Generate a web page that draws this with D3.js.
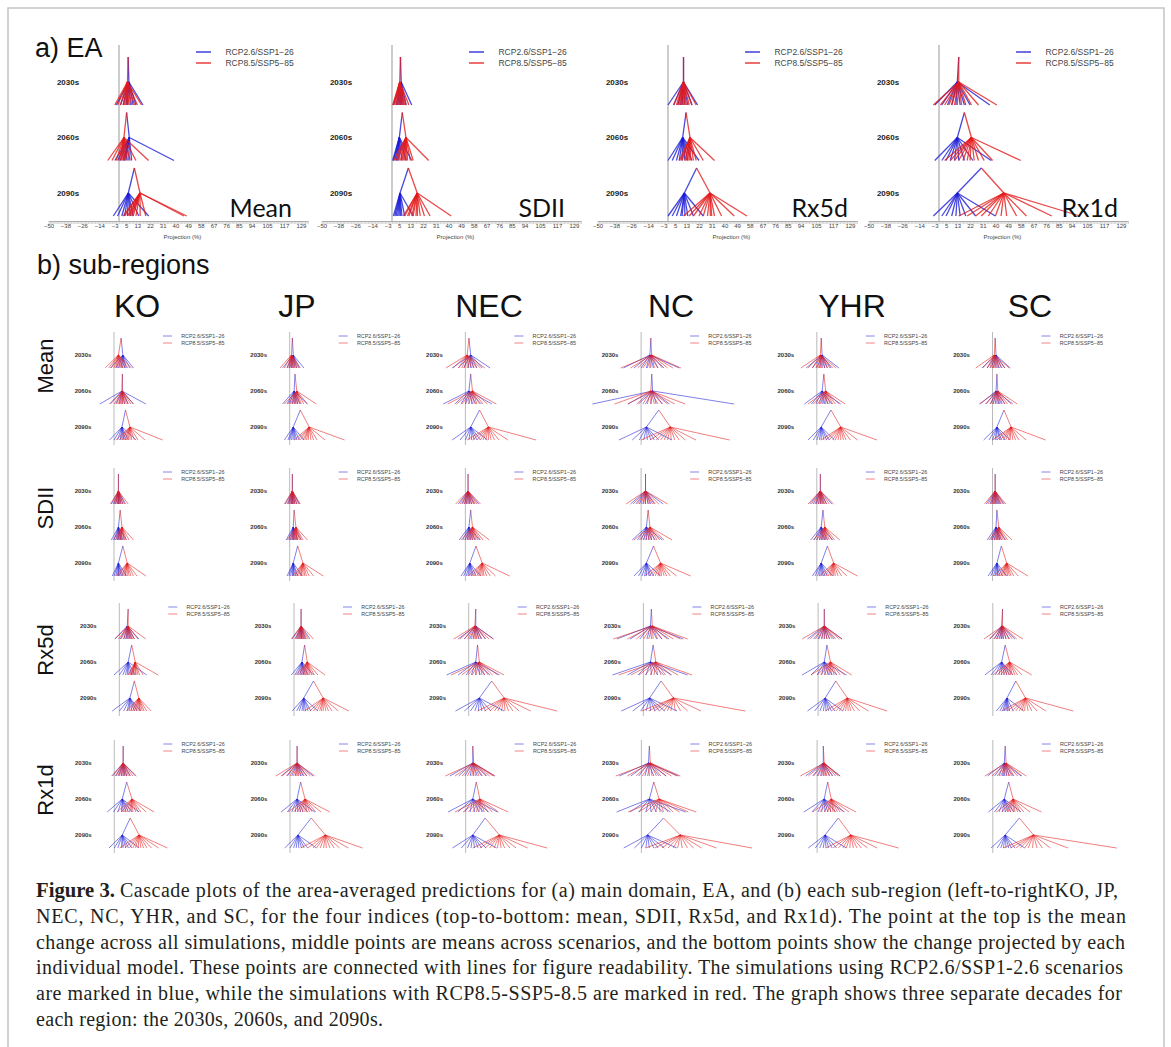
<!DOCTYPE html>
<html>
<head>
<meta charset="utf-8">
<script src="https://cdn.jsdelivr.net/npm/d3@7"></script>
<style>
body { margin: 0; background: #fff; }
</style>
</head>
<body>
<svg id="fig" width="1171" height="1047"></svg>
<script>
var decades = ["2030s", "2060s", "2090s"];
var indices = ["Mean", "SDII", "Rx5d", "Rx1d"];
var regions = ["KO", "JP", "NEC", "NC", "YHR", "SC"];
var scenarios = ["RCP2.6/SSP1\u221226", "RCP8.5/SSP5\u221285"];
var tickLabels = [-50, -38, -26, -14, -3, 5, 13, 22, 31, 40, 49, 58, 67, 76, 85, 94, 105, 117, 129];
var tickLabelsSC = [-50, -38, -26, -14, -3, 5, 13, 22, 31, 40, 49, 58, 67, 76, 85, 94, 105, 117, 129, 141];

// each decade: [mean of all sims, RCP2.6 mean, RCP8.5 mean, RCP2.6 models, RCP8.5 models]  (%)
var eaMean = [
  [6.5, 7, 6, [-2, 1, 3, 5, 6, 8, 10, 12, 17], [-3, -1, 1, 3, 4, 5, 6, 7, 9, 11, 13, 16]],
  [5.4, 7.3, 3.5, [-3, -1, 1, 3, 4, 5, 7, 9, 39], [-8, -5, -2, 0, 1, 2, 3, 4, 6, 8, 12, 21]],
  [10.9, 6.6, 14.9, [-4, -1, 2, 4, 6, 8, 10, 14, 21], [3, 4, 6, 7, 8, 9, 10, 12, 15, 19, 46, 48]]
];
var eaSDII = [
  [6, 6.5, 5.5, [1, 3, 4, 5, 6, 7, 8, 10, 14], [0.5, 1, 2, 3, 4, 5, 6, 7, 8, 9, 10, 12]],
  [7.3, 5.2, 9.9, [0.5, 1, 2, 3, 4, 5, 7, 10, 14], [1, 3, 4, 6, 7, 8, 9, 10, 11, 13, 15, 26]],
  [11.6, 5.7, 17.9, [1, 2, 3, 4, 5, 6, 7, 9, 15], [8, 9, 11, 12, 14, 15, 17, 18, 20, 23, 27, 42]]
];
var eaRx5d = [
  [11, 11, 11, [0, 4, 7, 9, 10, 12, 14, 17, 21], [4, 6, 7, 8, 9, 10, 11, 12, 13, 15, 17, 20]],
  [12.8, 10.4, 15.6, [0, 3, 6, 8, 10, 12, 14, 17, 22], [8, 9, 10, 12, 13, 14, 15, 16, 18, 20, 25, 33]],
  [20.3, 11.6, 29.8, [0, 3, 6, 9, 10, 12, 14, 18, 25], [11, 15, 18, 22, 25, 28, 30, 31, 33, 38, 47, 56]]
];
var eaRx1d = [
  [14, 13, 14, [-3, 2, 6, 9, 12, 15, 18, 22, 36], [-4, 1, 4, 7, 9, 11, 13, 16, 19, 23, 28, 41]],
  [18, 13, 23, [-3, 2, 5, 8, 11, 14, 18, 24, 37], [4, 8, 11, 14, 17, 20, 22, 25, 28, 32, 38, 58]],
  [30, 13, 46, [-4, 2, 5, 9, 12, 15, 19, 26, 40], [14, 20, 26, 30, 35, 40, 44, 48, 55, 62, 80, 100]]
];

// sub-regions, in the order of `regions`
var subMean = [
  [[8, 10, 5, [-4, 2, 5, 8, 10, 12, 14, 18, 22], [-10, -6, -3, 0, 2, 4, 6, 8, 10, 13, 16, 20]],
   [9.5, 9, 9.5, [-16, -5, 2, 6, 9, 12, 16, 22, 36], [-4, 0, 3, 5, 7, 9, 10, 12, 14, 16, 19, 22]],
   [13, 9, 18, [-5, 0, 4, 7, 9, 11, 13, 16, 25], [2, 6, 9, 12, 14, 16, 18, 20, 23, 27, 35, 55]]],
  [[3, 4, 2, [-8, -3, 0, 2, 4, 6, 8, 11, 16], [-11, -6, -3, -1, 0, 2, 3, 4, 6, 8, 10, 12]],
   [6, 5, 8, [-8, -3, 0, 3, 5, 7, 9, 12, 20], [-6, -2, 1, 3, 5, 7, 9, 11, 13, 16, 20, 30]],
   [12, 4, 22, [-6, -2, 0, 2, 4, 6, 8, 11, 16], [5, 9, 12, 15, 17, 19, 21, 24, 27, 31, 40, 62]]],
  [[4, 6, 2, [-15, -8, -2, 3, 6, 9, 13, 19, 28], [-22, -14, -8, -4, -1, 2, 4, 7, 10, 13, 17, 22]],
   [6, 4, 8, [-25, -12, -5, 0, 4, 8, 12, 18, 30], [-20, -10, -4, 0, 4, 7, 10, 13, 16, 20, 25, 35]],
   [16, 6, 26, [-15, -6, 0, 4, 7, 10, 13, 17, 25], [2, 8, 13, 17, 20, 23, 26, 29, 33, 38, 48, 80]]],
  [[11, 10, 12, [-20, -8, 0, 6, 10, 14, 19, 26, 43], [-23, -12, -4, 2, 7, 11, 15, 19, 24, 30, 36, 45]],
   [12, 13, 11, [-55, -15, -3, 5, 11, 17, 24, 32, 105], [-30, -15, -5, 2, 7, 11, 15, 19, 24, 30, 38, 50]],
   [20, 6, 33, [-25, -10, -2, 3, 7, 11, 15, 20, 35], [0, 10, 17, 22, 26, 30, 34, 38, 43, 50, 62, 100]]],
  [[5, 6, 4, [-12, -5, 0, 3, 6, 9, 12, 16, 25], [-18, -10, -5, -1, 2, 4, 6, 9, 12, 15, 18, 22]],
   [8, 6, 10, [-14, -6, -1, 3, 6, 9, 13, 17, 27], [-10, -4, 1, 4, 7, 10, 12, 15, 18, 21, 25, 32]],
   [16, 5, 27, [-10, -4, 0, 3, 5, 8, 11, 14, 20], [5, 10, 14, 18, 21, 24, 27, 30, 33, 38, 46, 68]]],
  [[3, 4, 2, [-12, -6, -2, 1, 4, 7, 10, 14, 20], [-19, -11, -6, -3, 0, 2, 4, 6, 8, 11, 14, 19]],
   [5, 4, 6, [-14, -7, -2, 1, 4, 7, 10, 14, 23], [-15, -8, -3, 0, 3, 6, 8, 11, 14, 17, 21, 28]],
   [13, 5, 21, [-10, -4, 0, 3, 5, 8, 10, 14, 20], [0, 5, 9, 12, 15, 18, 20, 23, 26, 30, 38, 60]]]
];
var subSDII = [
  [[5, 5, 5, [-3, 0, 2, 4, 5, 6, 8, 10, 13], [-4, -1, 1, 2, 4, 5, 6, 7, 8, 10, 12, 16]],
   [7, 5, 9, [-3, 0, 2, 4, 5, 7, 8, 10, 14], [-1, 2, 4, 6, 7, 8, 9, 11, 12, 14, 17, 22]],
   [10, 5, 15, [-2, 0, 2, 4, 5, 6, 8, 10, 14], [2, 5, 8, 10, 12, 13, 15, 17, 19, 22, 26, 36]]],
  [[3, 3, 3, [-5, -2, 0, 2, 3, 4, 6, 8, 11], [-6, -3, -1, 1, 2, 3, 4, 5, 6, 8, 10, 12]],
   [5, 4, 7, [-4, -1, 1, 3, 4, 5, 7, 9, 13], [-3, 0, 2, 4, 5, 7, 8, 9, 11, 13, 15, 20]],
   [9, 4, 15, [-3, -1, 1, 3, 4, 5, 7, 9, 14], [3, 6, 8, 10, 12, 13, 15, 17, 19, 22, 27, 38]]],
  [[3, 3, 3, [-8, -4, -1, 1, 3, 5, 7, 10, 15], [-11, -6, -3, -1, 1, 3, 5, 7, 9, 11, 13, 17]],
   [6, 4, 8, [-7, -3, 0, 2, 4, 6, 8, 11, 16], [-5, -1, 2, 4, 6, 8, 10, 12, 14, 17, 20, 27]],
   [12, 5, 19, [-5, -2, 1, 3, 5, 7, 9, 12, 17], [3, 7, 10, 13, 15, 17, 19, 21, 24, 28, 34, 50]]],
  [[5, 5, 5, [-12, -6, -2, 2, 5, 8, 11, 15, 25], [-17, -9, -4, 0, 3, 5, 8, 10, 13, 16, 20, 30]],
   [8, 6, 10, [-10, -4, 0, 3, 6, 9, 12, 16, 24], [-8, -2, 2, 5, 8, 10, 12, 15, 18, 21, 26, 35]],
   [14, 6, 22, [-8, -3, 1, 4, 6, 9, 11, 14, 22], [4, 9, 13, 16, 19, 21, 23, 26, 29, 33, 40, 56]]],
  [[4, 4, 4, [-8, -4, -1, 2, 4, 6, 8, 11, 17], [-10, -6, -2, 0, 2, 4, 5, 7, 9, 11, 14, 19]],
   [7, 5, 9, [-7, -3, 0, 3, 5, 7, 9, 12, 18], [-4, 0, 3, 5, 7, 9, 10, 12, 14, 17, 20, 26]],
   [12, 5, 19, [-5, -2, 1, 3, 5, 7, 9, 12, 18], [3, 7, 10, 13, 15, 17, 19, 21, 24, 28, 34, 46]]],
  [[3, 3, 3, [-7, -3, -1, 1, 3, 5, 7, 9, 13], [-9, -5, -2, 0, 2, 3, 4, 6, 8, 10, 12, 15]],
   [5, 4, 7, [-6, -2, 0, 2, 4, 6, 8, 10, 15], [-4, -1, 2, 4, 5, 7, 8, 10, 12, 14, 17, 22]],
   [10, 5, 16, [-5, -2, 1, 3, 5, 6, 8, 11, 16], [2, 6, 9, 11, 13, 15, 17, 19, 21, 24, 29, 40]]]
];
var subRx5d = [
  [[10, 9, 10, [-5, 1, 5, 8, 10, 12, 14, 17, 22], [-5, -1, 2, 5, 7, 9, 11, 13, 15, 17, 21, 30]],
   [14, 10, 18, [-6, 0, 4, 7, 9, 11, 14, 18, 31], [10, 12, 13, 14, 15, 16, 18, 19, 21, 23, 27, 44]],
   [17, 12, 22, [-8, 0, 5, 9, 11, 14, 17, 20, 24], [8, 12, 15, 17, 19, 21, 23, 24, 26, 28, 31, 36]]],
  [[8, 8, 8, [-2, 2, 4, 6, 8, 9, 11, 13, 18], [-3, 1, 3, 5, 7, 8, 9, 10, 12, 14, 16, 22]],
   [12, 9, 15, [-3, 1, 4, 7, 9, 11, 13, 16, 22], [2, 5, 8, 10, 12, 14, 16, 18, 20, 23, 27, 35]],
   [22, 11, 33, [-2, 3, 6, 9, 11, 13, 16, 19, 27], [12, 18, 22, 26, 29, 31, 33, 36, 39, 43, 50, 62]]],
  [[8, 8, 7, [-12, -5, 1, 5, 8, 11, 14, 19, 28], [-17, -10, -5, -1, 3, 6, 9, 12, 15, 19, 23, 28]],
   [10, 8, 12, [-25, -12, -3, 3, 8, 13, 18, 24, 35], [-20, -8, -1, 4, 8, 12, 15, 18, 22, 27, 33, 40]],
   [26, 12, 40, [-15, -5, 2, 7, 11, 15, 19, 25, 40], [10, 18, 24, 29, 33, 37, 41, 45, 50, 57, 70, 100]]],
  [[9, 8, 10, [-30, -15, -4, 4, 9, 15, 21, 29, 45], [-34, -18, -8, 0, 6, 11, 16, 21, 27, 34, 42, 50]],
   [11, 8, 14, [-35, -18, -6, 3, 9, 16, 23, 32, 50], [-28, -14, -5, 2, 8, 12, 16, 20, 25, 31, 39, 55]],
   [20, 7, 34, [-25, -12, -3, 3, 8, 13, 18, 24, 38], [-2, 6, 12, 18, 23, 27, 31, 36, 42, 50, 65, 115]]],
  [[7, 7, 7, [-12, -5, 0, 4, 7, 10, 13, 18, 27], [-18, -9, -3, 1, 4, 7, 10, 13, 16, 20, 24, 27]],
   [10, 7, 14, [-18, -8, -1, 4, 8, 12, 16, 21, 32], [-8, -1, 3, 7, 10, 13, 15, 18, 21, 25, 30, 38]],
   [20, 8, 33, [-12, -4, 2, 6, 9, 12, 15, 19, 28], [8, 15, 20, 24, 28, 31, 34, 37, 41, 47, 57, 78]]],
  [[11, 10, 11, [-3, 2, 5, 8, 10, 12, 15, 19, 25], [-10, -4, 1, 4, 7, 10, 12, 15, 18, 22, 27, 34]],
   [14, 10, 19, [-9, -2, 3, 7, 10, 13, 16, 19, 23], [0, 5, 9, 12, 15, 18, 20, 22, 25, 28, 33, 44]],
   [26, 16, 37, [4, 8, 11, 13, 15, 17, 19, 23, 35], [10, 16, 22, 26, 30, 33, 36, 40, 44, 50, 60, 91]]]
];
var subRx1d = [
  [[10, 10, 10, [-2, 2, 5, 8, 10, 12, 14, 18, 24], [-3, 1, 4, 6, 8, 10, 12, 14, 16, 18, 21, 25]],
   [14, 9, 20, [-8, -1, 4, 8, 10, 13, 16, 20, 28], [3, 8, 11, 14, 17, 19, 21, 24, 27, 30, 36, 45]],
   [18, 9, 28, [-6, 0, 4, 8, 10, 13, 16, 20, 28], [6, 12, 17, 21, 24, 27, 30, 33, 37, 42, 50, 60]]],
  [[8, 8, 8, [-10, -3, 2, 6, 9, 12, 15, 19, 26], [-16, -9, -4, 0, 4, 7, 10, 13, 16, 19, 23, 28]],
   [12, 8, 17, [-10, -3, 2, 6, 9, 12, 15, 20, 28], [-2, 4, 8, 11, 14, 17, 19, 22, 25, 29, 35, 45]],
   [24, 9, 40, [-6, 0, 4, 7, 10, 13, 16, 20, 30], [12, 20, 26, 30, 34, 38, 41, 45, 50, 56, 66, 82]]],
  [[8, 8, 9, [-18, -8, -1, 5, 9, 13, 18, 24, 33], [-23, -12, -4, 2, 7, 11, 15, 19, 23, 27, 31, 33]],
   [12, 8, 16, [-20, -9, -1, 5, 10, 15, 20, 26, 36], [-12, -3, 3, 8, 12, 15, 18, 21, 25, 30, 37, 48]],
   [22, 8, 38, [-15, -5, 2, 6, 10, 14, 18, 23, 35], [8, 16, 22, 27, 32, 36, 40, 44, 50, 57, 70, 92]]],
  [[9, 8, 10, [-25, -12, -3, 4, 9, 14, 20, 28, 42], [-29, -16, -6, 1, 7, 12, 17, 22, 28, 34, 40, 44]],
   [14, 9, 20, [-28, -13, -3, 5, 11, 17, 24, 33, 50], [-15, -3, 5, 11, 16, 21, 25, 30, 36, 43, 53, 62]],
   [25, 7, 44, [-20, -8, 0, 5, 9, 14, 19, 26, 40], [5, 15, 23, 30, 36, 41, 46, 52, 59, 68, 85, 125]]],
  [[7, 7, 8, [-13, -5, 0, 4, 7, 10, 14, 18, 26], [-19, -10, -4, 1, 5, 8, 11, 14, 17, 21, 24, 26]],
   [12, 8, 16, [-15, -6, 1, 5, 9, 12, 16, 21, 31], [-5, 3, 8, 12, 15, 18, 20, 23, 26, 30, 36, 44]],
   [24, 9, 38, [-10, -2, 3, 7, 10, 13, 17, 22, 33], [10, 18, 24, 29, 33, 37, 41, 45, 50, 57, 68, 92]]],
  [[14, 13, 15, [-6, 2, 7, 11, 13, 16, 19, 23, 32], [-9, -1, 5, 9, 12, 15, 18, 21, 24, 28, 33, 38]],
   [18, 13, 23, [-5, 2, 7, 11, 14, 17, 20, 24, 32], [4, 10, 14, 17, 20, 23, 25, 28, 31, 35, 42, 55]],
   [30, 14, 46, [-2, 5, 9, 12, 15, 18, 21, 25, 36], [12, 20, 26, 31, 36, 40, 45, 50, 56, 65, 85, 140]]]
];

var captionLines = [
  "Cascade plots of the area-averaged predictions for (a) main domain, EA, and (b) each sub-region (left-to-rightKO, JP,",
  "NEC, NC, YHR, and SC, for the four indices (top-to-bottom: mean, SDII, Rx5d, and Rx1d). The point at the top is the mean",
  "change across all simulations, middle points are means across scenarios, and the bottom points show the change projected by each",
  "individual model. These points are connected with lines for figure readability. The simulations using RCP2.6/SSP1-2.6 scenarios",
  "are marked in blue, while the simulations with RCP8.5-SSP5-8.5 are marked in red. The graph shows three separate decades for",
  "each region: the 2030s, 2060s, and 2090s."
];

var BLUE = "#1c1cd6", RED = "#e41a1a";
var SANS = "'Liberation Sans', Arial, sans-serif";
var svg = d3.select("#fig");

// frame
svg.append("path").attr("d", "M8,1047V8H1164V1047").attr("fill", "none").attr("stroke", "#c4c4c4").attr("stroke-width", 1.5);

// draw one cascade panel
function cascade(g, x, data, ys, dTop, dBot, lw, op) {
  data.forEach(function (d, i) {
    var y0 = ys[i];
    var segs = [];
    [[d[1], d[3], BLUE], [d[2], d[4], RED]].forEach(function (s) {
      segs.push({ x1: d[0], y1: y0 + dTop, x2: s[0], y2: y0, c: s[2] });
      s[1].forEach(function (v) { segs.push({ x1: s[0], y1: y0, x2: v, y2: y0 + dBot, c: s[2] }); });
    });
    g.append("g").selectAll("line").data(segs).join("line")
      .attr("x1", function (s) { return x(s.x1); })
      .attr("y1", function (s) { return s.y1; })
      .attr("x2", function (s) { return x(s.x2); })
      .attr("y2", function (s) { return s.y2; })
      .attr("stroke", function (s) { return s.c; })
      .attr("stroke-width", lw)
      .attr("stroke-opacity", op);
  });
}

function axis(g, x, y, ticks, fs, pad, step, tlen, maxV) {
  g.append("g").attr("transform", "translate(0," + y + ")")
    .call(d3.axisBottom(x).tickValues(d3.range(-50, maxV + 0.01, step)).tickSize(tlen).tickSizeOuter(0).tickFormat(""))
    .call(function (s) { s.select(".domain").attr("stroke", "#999").attr("stroke-width", 0.8); })
    .call(function (s) { s.selectAll(".tick line").attr("stroke", "#aaa").attr("stroke-width", 0.5); });
  g.append("g").attr("transform", "translate(0," + y + ")")
    .call(d3.axisBottom(x).tickValues(ticks).tickSize(0).tickPadding(pad).tickFormat(d3.format("d")))
    .attr("font-family", SANS).attr("font-size", fs)
    .call(function (s) { s.select(".domain").remove(); })
    .call(function (s) { s.selectAll("text").attr("fill", "#444"); });
}

function legend(g, x0, y0, len, gap, fs, lw, op) {
  scenarios.forEach(function (name, i) {
    var yy = y0 + i * gap;
    g.append("line").attr("x1", x0).attr("x2", x0 + len).attr("y1", yy).attr("y2", yy)
      .attr("stroke", i ? RED : BLUE).attr("stroke-width", lw).attr("stroke-opacity", op);
    g.append("text").attr("x", x0 + len + (fs * 1.7)).attr("y", yy).attr("dy", "0.35em")
      .attr("font-family", SANS).attr("font-size", fs).attr("fill", "#444").text(name);
  });
}

// ---------- a) EA ----------
svg.append("text").attr("x", 35).attr("y", 57).attr("font-family", SANS).attr("font-size", 27).attr("fill", "#111").text("a) EA");

var eaData = [eaMean, eaSDII, eaRx5d, eaRx1d];
var zeroA = [119, 392, 668, 939], kA = 1.41;
var labYA = [82, 137.5, 193], axisYA = 221;
var bigRight = [292, 565, 848, 1118];

eaData.forEach(function (data, p) {
  var z = zeroA[p];
  var x = d3.scaleLinear().domain([-50, 134]).range([z - 50 * kA, z + 134 * kA]);
  var g = svg.append("g");
  g.append("line").attr("x1", x(0)).attr("x2", x(0)).attr("y1", 45).attr("y2", axisYA)
    .attr("stroke", "#999").attr("stroke-width", 1);
  axis(g, x, axisYA, tickLabels, 6, 3, 1, 3, 134);
  g.append("text").attr("x", x(45)).attr("y", axisYA + 18).attr("text-anchor", "middle")
    .attr("font-family", SANS).attr("font-size", 6).attr("fill", "#444").text("Projection (%)");
  decades.forEach(function (dec, i) {
    g.append("text").attr("x", z - 51).attr("y", labYA[i]).attr("dy", "0.35em").attr("text-anchor", "middle")
      .attr("font-family", SANS).attr("font-weight", "bold").attr("font-size", 8).attr("fill", "#222").text(dec);
  });
  cascade(g, x, data, labYA, -25, 23, 1.3, 0.8);
  legend(g, z + 77, 52, 15, 11, 8.5, 1.5, 0.85);
  g.append("text").attr("x", bigRight[p]).attr("y", 217).attr("text-anchor", "end")
    .attr("font-family", "Lato, 'Open Sans', sans-serif").attr("font-size", 25).attr("fill", "#111").text(indices[p]);
});

// ---------- b) sub-regions ----------
svg.append("text").attr("x", 37).attr("y", 274).attr("font-family", SANS).attr("font-size", 27).attr("fill", "#111").text("b) sub-regions");

var titleX = [137, 297, 489, 671, 852, 1030];
regions.forEach(function (r, c) {
  svg.append("text").attr("x", titleX[c]).attr("y", 317).attr("text-anchor", "middle")
    .attr("font-family", SANS).attr("font-size", 32).attr("fill", "#111").text(r);
});
var rowLabelY = [366, 508, 650, 790];
indices.forEach(function (name, r) {
  svg.append("text").attr("transform", "translate(53," + rowLabelY[r] + ") rotate(-90)")
    .attr("text-anchor", "middle").attr("font-family", SANS).attr("font-size", 22).attr("fill", "#111").text(name);
});

var subData = [subMean, subSDII, subRx5d, subRx1d];
var rowY = [355, 491, 626, 763];
var z0 = [114, 114, 119.3, 114.3], pitch = [175.7, 175.7, 174.7, 175.7];
var kS = 0.885;
var defs = svg.append("defs");

subData.forEach(function (rowData, r) {
  var ys = [rowY[r], rowY[r] + 36, rowY[r] + 72];
  var axisY = rowY[r] + 91;
  rowData.forEach(function (data, c) {
    var z = z0[r] + c * pitch[r];
    var isSC = regions[c] === "SC";
    var maxV = isSC ? 146 : 134;
    var x = d3.scaleLinear().domain([-50, maxV]).range([z - 50 * kS, z + maxV * kS]);
    var id = "clip" + r + "_" + c;
    defs.append("clipPath").attr("id", id).append("rect")
      .attr("x", z - 70).attr("y", rowY[r] - 40).attr("width", isSC ? 210 : 186).attr("height", 130);
    var g = svg.append("g").attr("clip-path", "url(#" + id + ")");
    g.append("line").attr("x1", x(0)).attr("x2", x(0)).attr("y1", rowY[r] - 23).attr("y2", axisY)
      .attr("stroke", "#aaa").attr("stroke-width", 0.8);
    axis(g, x, axisY, isSC ? tickLabelsSC : tickLabels, 4.6, 2, 2, 2, maxV);
    g.append("text").attr("x", x(50)).attr("y", axisY + 10.5).attr("text-anchor", "middle")
      .attr("font-family", SANS).attr("font-size", 4.6).attr("fill", "#444").text("Projection (%)");
    decades.forEach(function (dec, i) {
      g.append("text").attr("x", z - 31).attr("y", ys[i]).attr("dy", "0.35em").attr("text-anchor", "middle")
        .attr("font-family", SANS).attr("font-weight", "bold").attr("font-size", 6).attr("fill", "#333").text(dec);
    });
    cascade(g, x, data, ys, -17, 13, 0.75, 0.75);
    legend(g, z + 49, rowY[r] - 19, 9, 7, 5.4, 0.9, 0.6);
  });
});

// ---------- caption ----------
var capY = [897, 923, 949, 974, 1000, 1026];
var capEnd = [1118, 1126, 1125, 1123, 1122, 383];
var SERIF = "'Liberation Serif', 'DejaVu Serif', serif";
svg.append("text").attr("x", 36).attr("y", capY[0]).attr("font-family", SERIF).attr("font-weight", "bold")
  .attr("font-size", 20).attr("fill", "#231f20").attr("textLength", 79).attr("lengthAdjust", "spacingAndGlyphs").text("Figure 3.");
captionLines.forEach(function (t, i) {
  var x0 = i === 0 ? 120 : 36;
  svg.append("text").attr("x", x0).attr("y", capY[i]).attr("font-family", SERIF)
    .attr("font-size", 20).attr("fill", "#231f20")
    .attr("textLength", capEnd[i] - x0).attr("lengthAdjust", "spacing").text(t);
});
</script>
</body>
</html>
